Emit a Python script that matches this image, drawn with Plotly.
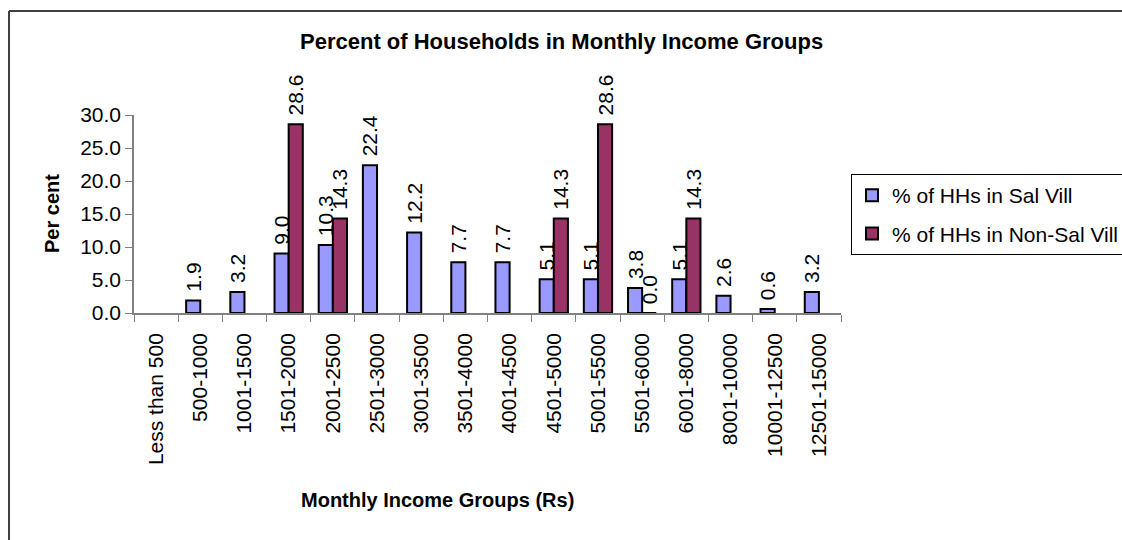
import plotly.graph_objects as go

categories = ["Less than 500", "500-1000", "1001-1500", "1501-2000", "2001-2500",
              "2501-3000", "3001-3500", "3501-4000", "4001-4500", "4501-5000",
              "5001-5500", "5501-6000", "6001-8000", "8001-10000", "10001-12500",
              "12501-15000"]
sal_vill = [None, 1.9, 3.2, 9.0, 10.3, 22.4, 12.2, 7.7, 7.7, 5.1, 5.1, 3.8, 5.1, 2.6, 0.6, 3.2]
non_sal_vill = [None, None, None, 28.6, 14.3, None, None, None, None, 14.3, 28.6, 0.0, 14.3,
                None, None, None]
series_names = ["% of HHs in Sal Vill", "% of HHs in Non-Sal Vill"]
y_ticks = [0, 5, 10, 15, 20, 25, 30]

W, H = 1122, 540
L, R, T, B = 134, 841, 115, 313  # plot area in pixels
FONT = "Liberation Sans, Arial, sans-serif"


def px_x(p):
    return (p - L) / (R - L)


def px_y(p):
    return (B - p) / (B - T)


def labels(vals):
    return ["" if v is None else "\u00a0" + f"{v:.1f}" for v in vals]


fig = go.Figure()
for name, vals, color, grp in [(series_names[0], sal_vill, "#9999FF", "a"),
                               (series_names[1], non_sal_vill, "#993366", "b")]:
    fig.add_trace(go.Bar(
        x=categories, y=vals, name=name, legendgroup=grp,
        marker=dict(color=color, line=dict(color="black", width=2)),
        text=labels(vals), textposition="outside", textangle=-90,
        textfont=dict(family=FONT, size=21, color="black"),
        constraintext="none", cliponaxis=False,
    ))

border = dict(color="#404040", width=2)
fig.update_layout(
    width=W, height=H,
    margin=dict(l=L, r=W - R, t=T, b=H - B, pad=0, autoexpand=False),
    paper_bgcolor="white", plot_bgcolor="white",
    barmode="group", bargap=0.36, bargroupgap=0,
    font=dict(family=FONT, size=21, color="black"),
    showlegend=True,
    legend=dict(x=px_x(851), y=px_y(174), xanchor="left", yanchor="top",
                bgcolor="white", bordercolor="black", borderwidth=1, itemwidth=30,
                font=dict(family=FONT, size=21, color="black"),
                tracegroupgap=8, traceorder="grouped"),
    xaxis=dict(type="category", showline=True, linecolor="#808080", linewidth=1.5,
               ticks="outside", tickson="boundaries", ticklen=7, tickcolor="#808080",
               tickangle=-90, ticklabelstandoff=10,
               tickfont=dict(family=FONT, size=21, color="black"),
               showgrid=False, zeroline=False, fixedrange=True),
    yaxis=dict(range=[0, 30], tickvals=y_ticks, tickformat=".1f", showline=True,
               linecolor="#808080", linewidth=1.5, ticks="outside", ticklen=7,
               tickcolor="#808080", tickfont=dict(family=FONT, size=21, color="black"),
               showgrid=False, zeroline=False),
    annotations=[
        dict(text="<b>Percent of Households in Monthly Income Groups</b>",
             xref="paper", yref="paper", x=px_x(561), y=px_y(42), xanchor="center",
             yanchor="middle", showarrow=False, font=dict(family=FONT, size=22, color="black")),
        dict(text="<b>Per cent</b>", xref="paper", yref="paper", x=px_x(52), y=px_y(214),
             xanchor="center", yanchor="middle", textangle=-90, showarrow=False,
             font=dict(family=FONT, size=20, color="black")),
        dict(text="<b>Monthly Income Groups (Rs)</b>", xref="paper", yref="paper",
             x=px_x(437), y=px_y(500), xanchor="center", yanchor="middle", showarrow=False,
             font=dict(family=FONT, size=20, color="black")),
    ],
    shapes=[
        dict(type="line", xref="paper", yref="paper", x0=px_x(9), x1=px_x(1122),
             y0=px_y(11), y1=px_y(11), line=border),
        dict(type="line", xref="paper", yref="paper", x0=px_x(9), x1=px_x(9),
             y0=px_y(11), y1=px_y(540), line=border),
    ],
)

fig.write_html("out.html", config={"displayModeBar": False},
               post_script="document.body.style.margin='0';document.body.style.overflow='hidden';")
